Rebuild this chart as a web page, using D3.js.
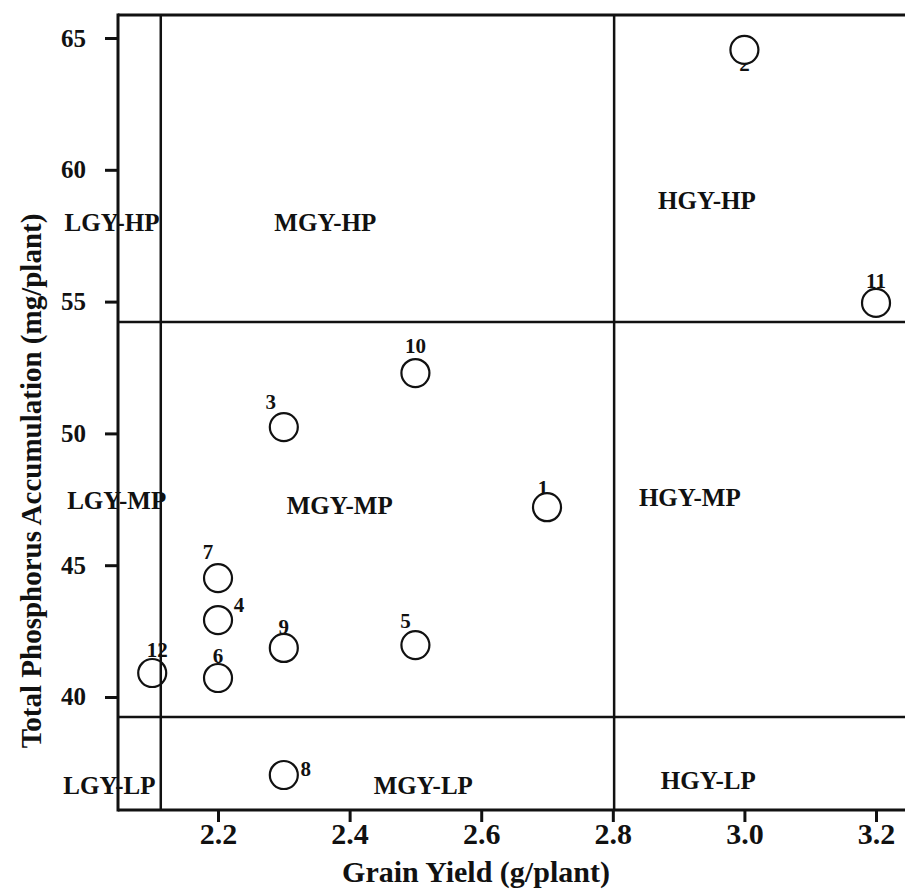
<!DOCTYPE html>
<html>
<head>
<meta charset="utf-8">
<script src="https://cdn.jsdelivr.net/npm/d3@7"></script>
<style>
  html, body { margin: 0; padding: 0; background: #fff; }
  svg { display: block; }
  text { font-family: "Liberation Serif", "Times New Roman", serif; font-weight: bold; fill: #111; }
</style>
</head>
<body>
<svg id="chart" width="905" height="890"></svg>
<script>
// ---- data ----
const genotypes   = ["1","2","3","4","5","6","7","8","9","10","11","12"];
const grainYield  = [2.7, 3.0, 2.3, 2.2, 2.5, 2.2, 2.2, 2.3, 2.3, 2.5, 3.2, 2.1];
const phosphorus  = [47.2, 64.55, 50.24, 42.92, 41.97, 40.72, 44.51, 37.04, 41.86, 52.29, 54.95, 40.91];
const xTickValues = [2.2, 2.4, 2.6, 2.8, 3.0, 3.2];
const yTickValues = [40, 45, 50, 55, 60, 65];
const yieldThresholds = [2.113, 2.802];
const phosThresholds  = [39.24, 54.23];
const regionNames = ["LGY-HP","MGY-HP","HGY-HP","LGY-MP","MGY-MP","HGY-MP","LGY-LP","MGY-LP","HGY-LP"];
const regionYield = [2.039, 2.363, 2.943, 2.046, 2.385, 2.917, 2.035, 2.512, 2.945];
const regionPhos  = [58.02, 58.02, 58.85, 47.47, 47.28, 47.55, 36.66, 36.66, 36.85];
const xTitle = "Grain Yield (g/plant)";
const yTitle = "Total Phosphorus Accumulation (mg/plant)";

// label offsets (presentation only)
const labelDx = [-4, 0, -13, 21, -10, 0, -10, 22, 0, 0, 0, 5];
const labelDy = [-12, 21, -18, -8, -17, -15, -19, 1, -14, -20, -15, -16];

// ---- layout ----
const svg = d3.select("#chart");
const mLeft = 118, mTop = 15, mBottom = 810, mRight = 910;

const x = d3.scaleLinear().domain([2.048, 2.048 + (mRight - mLeft) / 658]).range([mLeft, mRight]);
const y = d3.scaleLinear().domain([35.713, 65.873]).range([mBottom, mTop]);

const pts = genotypes.map((g, i) => ({ g, gy: grainYield[i], tp: phosphorus[i], dx: labelDx[i], dy: labelDy[i] }));

// labels first (circles cover them partially)
svg.append("g").selectAll("text").data(pts).join("text")
  .attr("x", d => x(d.gy) + d.dx)
  .attr("y", d => y(d.tp) + d.dy)
  .attr("text-anchor", "middle")
  .style("font-size", "21px")
  .text(d => d.g);

svg.append("g").selectAll("circle").data(pts).join("circle")
  .attr("cx", d => x(d.gy))
  .attr("cy", d => y(d.tp))
  .attr("r", 14)
  .attr("fill", "#fff")
  .attr("stroke", "#111")
  .attr("stroke-width", 2.2);

// threshold lines
svg.append("g").selectAll("line").data(yieldThresholds).join("line")
  .attr("x1", d => x(d)).attr("x2", d => x(d))
  .attr("y1", mTop).attr("y2", mBottom)
  .attr("stroke", "#111").attr("stroke-width", 2.5);
svg.append("g").selectAll("line").data(phosThresholds).join("line")
  .attr("x1", mLeft).attr("x2", mRight)
  .attr("y1", d => y(d)).attr("y2", d => y(d))
  .attr("stroke", "#111").attr("stroke-width", 2.5);

// region labels
svg.append("g").selectAll("text").data(regionNames).join("text")
  .attr("x", (d, i) => x(regionYield[i]))
  .attr("y", (d, i) => y(regionPhos[i]))
  .attr("text-anchor", "middle")
  .attr("dominant-baseline", "central")
  .style("font-size", "25px")
  .text(d => d);

// axes
const yAxis = d3.axisLeft(y).tickValues(yTickValues).tickSize(13).tickPadding(19).tickFormat(d3.format("d"));
const gY = svg.append("g").attr("transform", `translate(${mLeft},0)`).call(yAxis);
gY.select(".domain").remove();
gY.selectAll(".tick line").attr("stroke", "#111").attr("stroke-width", 3);
gY.selectAll(".tick text").style("font-size", "25px").style("font-family", "Liberation Serif, serif").style("font-weight", "bold").attr("fill", "#111");

const xAxis = d3.axisBottom(x).tickValues(xTickValues).tickSize(12).tickPadding(1).tickFormat(d3.format(".1f"));
const gX = svg.append("g").attr("transform", `translate(0,${mBottom})`).call(xAxis);
gX.select(".domain").remove();
gX.selectAll(".tick line").attr("stroke", "#111").attr("stroke-width", 3);
gX.selectAll(".tick text").style("font-size", "30px").style("font-family", "Liberation Serif, serif").style("font-weight", "bold").attr("fill", "#111");

// frame
svg.append("line").attr("x1", mLeft).attr("x2", mLeft).attr("y1", mTop - 1.5).attr("y2", mBottom + 1.5).attr("stroke", "#111").attr("stroke-width", 3);
svg.append("line").attr("x1", mLeft).attr("x2", mRight).attr("y1", mTop).attr("y2", mTop).attr("stroke", "#111").attr("stroke-width", 3);
svg.append("line").attr("x1", mLeft).attr("x2", mRight).attr("y1", mBottom).attr("y2", mBottom).attr("stroke", "#111").attr("stroke-width", 3);

// titles
svg.append("text")
  .attr("x", 476).attr("y", 882)
  .attr("text-anchor", "middle")
  .style("font-size", "30px")
  .text(xTitle);

svg.append("text")
  .attr("transform", "translate(31,481) rotate(-90)")
  .attr("text-anchor", "middle")
  .attr("dominant-baseline", "central")
  .style("font-size", "29px")
  .text(yTitle);
</script>
</body>
</html>
